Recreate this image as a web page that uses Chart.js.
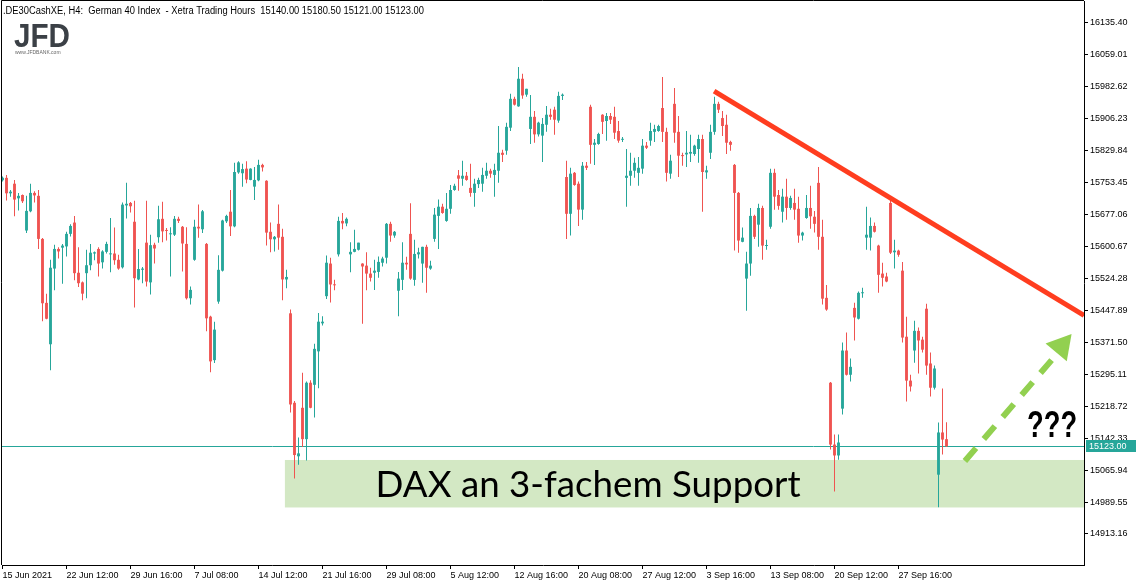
<!DOCTYPE html>
<html>
<head>
<meta charset="utf-8">
<script src="https://cdn.jsdelivr.net/npm/chart.js@4.4.1/dist/chart.umd.min.js"></script>
<style>
  html, body { margin: 0; padding: 0; background: #fff; }
</style>
</head>
<body>
<canvas id="chart" width="1142" height="588"></canvas>
<script>
// H4 candles, .DE30CashXE, 15 Jun 2021 08:00 onwards (index = candle number)
const opens = [
  15759, 15765, 15728, 15751, 15716, 15724, 15639, 15685, 15729, 15722,
  15619, 15466, 15367, 15548, 15595, 15598, 15601, 15631, 15658, 15538,
  15515, 15537, 15556, 15584, 15595, 15563, 15588, 15582, 15584, 15569,
  15551, 15699, 15705, 15660, 15522, 15545, 15610, 15515, 15605, 15623,
  15667, 15640, 15630, 15629, 15667, 15648, 15607, 15477, 15569, 15648,
  15642, 15607, 15433, 15329, 15469, 15543, 15661, 15684, 15649, 15778,
  15776, 15787, 15760, 15744, 15759, 15796, 15758, 15636, 15618, 15655,
  15624, 15522, 15441, 15227, 15099, 15215, 15140, 15275, 15270, 15350,
  15417, 15482, 15560, 15509, 15582, 15662, 15656, 15582, 15588, 15593,
  15560, 15555, 15536, 15538, 15540, 15562, 15574, 15655, 15627, 15495,
  15521, 15562, 15631, 15521, 15582, 15560, 15600, 15548, 15619, 15674,
  15696, 15662, 15691, 15736, 15771, 15763, 15770, 15741, 15729, 15750,
  15751, 15770, 15782, 15772, 15782, 15825, 15830, 15885, 15954, 15936,
  16002, 15964, 15882, 15911, 15869, 15866, 15892, 15916, 15928, 15902,
  15961, 15767, 15679, 15777, 15751, 15689, 15794, 15935, 15844, 15846,
  15916, 15901, 15913, 15911, 15877, 15856, 15765, 15770, 15782, 15777,
  15787, 15842, 15854, 15875, 15877, 15932, 15875, 15775, 15942, 15875,
  15818, 15821, 15823, 15822, 15834, 15858, 15778, 15825, 15875, 15942,
  15908, 15892, 15851, 15796, 15729, 15612, 15524, 15560, 15674, 15653,
  15693, 15602, 15648, 15777, 15724, 15684, 15720, 15693, 15705, 15691,
  15627, 15669, 15693, 15672, 15753, 15624, 15478, 15275, 15127, 15101,
  15213, 15352, 15294, 15454, 15428, 15489, 15622, 15622, 15650, 15603,
  15536, 15529, 15705, 15587, 15591, 15543, 15385, 15280, 15352, 15399,
  15378, 15452, 15321, 15263, 15055, 15156, 15140
];
const highs = [
  15768, 15772, 15736, 15760, 15729, 15725, 15722, 15751, 15733, 15736,
  15621, 15488, 15569, 15605, 15599, 15607, 15636, 15654, 15674, 15599,
  15517, 15593, 15607, 15589, 15599, 15592, 15612, 15669, 15646, 15581,
  15706, 15753, 15707, 15710, 15595, 15552, 15710, 15629, 15610, 15698,
  15708, 15645, 15647, 15674, 15672, 15650, 15647, 15505, 15665, 15701,
  15688, 15609, 15435, 15421, 15580, 15665, 15677, 15736, 15801, 15805,
  15799, 15805, 15788, 15791, 15808, 15799, 15759, 15658, 15626, 15701,
  15643, 15545, 15450, 15231, 15144, 15299, 15278, 15281, 15368, 15442,
  15434, 15579, 15574, 15521, 15672, 15681, 15670, 15611, 15641, 15610,
  15561, 15587, 15550, 15569, 15577, 15576, 15657, 15660, 15638, 15540,
  15611, 15576, 15704, 15617, 15598, 15600, 15605, 15567, 15693, 15713,
  15703, 15729, 15748, 15751, 15784, 15806, 15779, 15799, 15763, 15765,
  15789, 15801, 15787, 15799, 15889, 15832, 15897, 15966, 15959, 16030,
  16014, 15978, 15963, 15925, 15899, 15908, 15937, 15930, 15935, 15971,
  15967, 15806, 15789, 15779, 15756, 15803, 15803, 15940, 15858, 15873,
  15917, 15920, 15920, 15935, 15901, 15863, 15834, 15825, 15813, 15815,
  15858, 15851, 15897, 15892, 15892, 16006, 15885, 15820, 15980, 15913,
  15825, 15877, 15868, 15844, 15868, 15868, 15794, 15892, 15959, 15947,
  15925, 15916, 15854, 15798, 15731, 15646, 15588, 15693, 15677, 15703,
  15698, 15617, 15787, 15787, 15736, 15739, 15763, 15722, 15739, 15720,
  15636, 15724, 15746, 15686, 15791, 15665, 15509, 15277, 15151, 15151,
  15371, 15395, 15333, 15466, 15493, 15502, 15696, 15670, 15658, 15605,
  15562, 15538, 15713, 15617, 15593, 15564, 15433, 15294, 15423, 15407,
  15385, 15464, 15347, 15316, 15180, 15261, 15180.5
];
const lows = [
  15756, 15711, 15720, 15673, 15687, 15705, 15633, 15683, 15706, 15595,
  15422, 15427, 15305, 15496, 15572, 15512, 15577, 15625, 15520, 15504,
  15472, 15477, 15544, 15568, 15529, 15548, 15584, 15539, 15557, 15545,
  15548, 15668, 15682, 15455, 15520, 15513, 15505, 15486, 15560, 15610,
  15611, 15615, 15529, 15626, 15657, 15541, 15474, 15462, 15567, 15622,
  15633, 15398, 15300, 15322, 15464, 15541, 15657, 15626, 15647, 15775,
  15744, 15752, 15759, 15712, 15757, 15780, 15603, 15587, 15589, 15593,
  15472, 15501, 15204, 15046, 15079, 15121, 15089, 15214, 15192, 15262,
  15412, 15475, 15467, 15496, 15577, 15642, 15649, 15539, 15587, 15591,
  15416, 15496, 15517, 15497, 15526, 15553, 15560, 15612, 15622, 15434,
  15497, 15545, 15521, 15507, 15572, 15514, 15490, 15545, 15612, 15595,
  15679, 15660, 15679, 15734, 15734, 15746, 15758, 15720, 15696, 15741,
  15732, 15763, 15765, 15720, 15753, 15803, 15820, 15877, 15938, 15935,
  15954, 15959, 15846, 15849, 15864, 15803, 15875, 15904, 15868, 15897,
  15951, 15619, 15627, 15746, 15650, 15665, 15784, 15799, 15796, 15844,
  15870, 15854, 15894, 15858, 15849, 15851, 15696, 15746, 15765, 15746,
  15775, 15834, 15842, 15851, 15875, 15851, 15756, 15763, 15849, 15767,
  15794, 15791, 15803, 15818, 15801, 15684, 15763, 15810, 15868, 15920,
  15865, 15822, 15830, 15591, 15586, 15611, 15447, 15531, 15619, 15600,
  15569, 15593, 15643, 15689, 15689, 15658, 15665, 15689, 15665, 15610,
  15615, 15667, 15643, 15634, 15593, 15462, 15447, 15115, 15015, 15091,
  15199, 15292, 15278, 15376, 15426, 15478, 15593, 15591, 15634, 15490,
  15505, 15515, 15583, 15548, 15576, 15371, 15230, 15254, 15323, 15297,
  15347, 15294, 15242, 15259, 14977, 15103, 15121
];
const closes = [
  15765, 15728, 15732, 15713, 15722, 15709, 15686, 15729, 15723, 15619,
  15465, 15428, 15550, 15595, 15589, 15603, 15631, 15650, 15537, 15513,
  15488, 15556, 15586, 15587, 15560, 15589, 15607, 15584, 15568, 15548,
  15701, 15703, 15697, 15525, 15547, 15548, 15517, 15604, 15596, 15666,
  15637, 15638, 15631, 15667, 15662, 15608, 15477, 15497, 15648, 15644,
  15685, 15429, 15326, 15402, 15545, 15663, 15674, 15649, 15779, 15802,
  15786, 15761, 15787, 15760, 15796, 15790, 15634, 15618, 15624, 15622,
  15522, 15528, 15223, 15102, 15106, 15140, 15275, 15215, 15356, 15421,
  15421, 15562, 15510, 15508, 15662, 15656, 15667, 15588, 15595, 15610,
  15553, 15536, 15526, 15543, 15564, 15572, 15655, 15627, 15636, 15524,
  15562, 15558, 15524, 15583, 15587, 15600, 15550, 15555, 15677, 15696,
  15681, 15691, 15736, 15746, 15763, 15770, 15760, 15729, 15751, 15760,
  15772, 15782, 15775, 15784, 15825, 15820, 15887, 15954, 15940, 16002,
  15962, 15978, 15911, 15869, 15897, 15894, 15916, 15911, 15904, 15961,
  15964, 15679, 15775, 15748, 15689, 15794, 15789, 15844, 15849, 15870,
  15899, 15913, 15904, 15873, 15854, 15858, 15770, 15782, 15801, 15789,
  15842, 15837, 15877, 15882, 15889, 15875, 15777, 15806, 15873, 15818,
  15817, 15825, 15827, 15842, 15858, 15779, 15783, 15875, 15942, 15928,
  15889, 15849, 15844, 15729, 15615, 15622, 15560, 15674, 15624, 15693,
  15603, 15603, 15777, 15720, 15698, 15720, 15693, 15717, 15689, 15627,
  15634, 15693, 15673, 15655, 15624, 15476, 15450, 15127, 15101, 15132,
  15352, 15294, 15313, 15431, 15490, 15490, 15629, 15650, 15636, 15533,
  15526, 15517, 15586, 15591, 15581, 15383, 15280, 15266, 15399, 15376,
  15354, 15316, 15263, 15309, 15156, 15139, 15123
];

// time axis: one label every 16 candles
const xTickIndex = [0, 16, 32, 48, 64, 80, 96, 112, 128, 144, 160, 176, 192, 208, 224];
const xTickLabels = ['15 Jun 2021', '22 Jun 12:00', '29 Jun 16:00', '7 Jul 08:00', '14 Jul 12:00',
  '21 Jul 16:00', '29 Jul 08:00', '5 Aug 12:00', '12 Aug 16:00', '20 Aug 08:00',
  '27 Aug 12:00', '3 Sep 16:00', '13 Sep 08:00', '20 Sep 12:00', '27 Sep 16:00'];
const yTickValues = [16135.40, 16059.01, 15982.62, 15906.23, 15829.84, 15753.45, 15677.06,
  15600.67, 15524.28, 15447.89, 15371.50, 15295.11, 15218.72, 15142.33, 15065.94,
  14989.55, 14913.16];

// drawings on the chart (candle index, price)
const trendLineX = [177.9, 270.375];
const trendLineY = [15972.7, 15435.8];
const arrowX = [240.6, 263.55];
const arrowY = [15087.8, 15343.2];
const arrowHeadAt = [264.7, 15362.1];
const supportX = [70.6, 270.375];
const supportY = [14976.6, 15090.2];
const supportText = 'DAX an 3-fachem Support';
const supportTextAt = [146.4, 15001.7];
const questionAt = [262.4, 15145.2];
const lastPrice = 15123.00;

const GREEN = '#26a69a';
const RED = '#ef5350';

Chart.defaults.font.family = "'Liberation Sans', Arial, sans-serif";
Chart.defaults.font.size = 9;
Chart.defaults.color = '#000';

const idx = opens.map((_, i) => i);
const candleColors = idx.map(i => closes[i] >= opens[i] ? GREEN : RED);

const frame = {
  id: 'frame',
  beforeDatasetsDraw(chart) {
    const { ctx, chartArea: a, scales: { x, y } } = chart;
    ctx.save();
    ctx.beginPath();
    ctx.rect(a.left, a.top, a.width, a.height);
    ctx.clip();
    // support zone
    const zx0 = x.getPixelForValue(supportX[0]);
    const zx1 = x.getPixelForValue(supportX[1]);
    const zy0 = y.getPixelForValue(supportY[1]);
    const zy1 = y.getPixelForValue(supportY[0]);
    ctx.fillStyle = 'rgb(211, 232, 196)';
    ctx.fillRect(zx0, zy0, zx1 - zx0, zy1 - zy0);
    // last price line
    const py = Math.round(y.getPixelForValue(lastPrice)) + 0.5;
    ctx.strokeStyle = GREEN;
    ctx.lineWidth = 1;
    ctx.beginPath();
    ctx.moveTo(a.left, py);
    ctx.lineTo(a.right, py);
    ctx.stroke();
    ctx.restore();
  },
  afterDatasetsDraw(chart) {
    const { ctx, scales: { x, y } } = chart;
    ctx.save();
    ctx.fillStyle = '#000';
    ctx.textAlign = 'center';
    ctx.textBaseline = 'alphabetic';
    ctx.font = "37px Lato, 'Open Sans', sans-serif";
    ctx.fillText(supportText, x.getPixelForValue(supportTextAt[0]), y.getPixelForValue(supportTextAt[1]), 425);
    ctx.font = "bold 36px 'Liberation Sans', sans-serif";
    ctx.fillText('???', x.getPixelForValue(questionAt[0]), y.getPixelForValue(questionAt[1]), 50);
    ctx.restore();
  },
  afterDraw(chart) {
    const { ctx, chartArea: a, scales: { y } } = chart;
    ctx.save();
    // left and top border
    ctx.strokeStyle = '#000';
    ctx.lineWidth = 1;
    ctx.beginPath();
    ctx.moveTo(a.left - 0.5, a.bottom);
    ctx.lineTo(a.left - 0.5, a.top - 0.5);
    ctx.lineTo(a.right, a.top - 0.5);
    ctx.stroke();
    // header
    ctx.fillStyle = '#000';
    ctx.textAlign = 'left';
    ctx.textBaseline = 'middle';
    ctx.font = "10px 'Liberation Sans', sans-serif";
    ctx.fillText('.DE30CashXE, H4:  German 40 Index  - Xetra Trading Hours  15140.00 15180.50 15121.00 15123.00', 3, 11, 421);
    // logo
    ctx.fillStyle = '#3b4046';
    ctx.textBaseline = 'alphabetic';
    ctx.font = "bold 33px 'Liberation Sans', sans-serif";
    ctx.fillText('JFD', 14, 47, 56);
    ctx.fillStyle = '#666';
    ctx.font = "5px 'Liberation Sans', sans-serif";
    ctx.fillText('www.JFDBANK.com', 15, 54, 53);
    // last price box
    const py = Math.round(y.getPixelForValue(lastPrice));
    ctx.fillStyle = GREEN;
    ctx.fillRect(a.right + 2, py - 6, 50, 12);
    ctx.fillStyle = '#fff';
    ctx.textBaseline = 'middle';
    ctx.font = "9px 'Liberation Sans', sans-serif";
    ctx.fillText(lastPrice.toFixed(2), a.right + 5, py + 0.5);
    ctx.restore();
  }
};

new Chart(document.getElementById('chart'), {
  type: 'bar',
  data: {
    datasets: [
      {
        type: 'line',
        order: 0,
        data: trendLineX.map((v, i) => ({ x: v, y: trendLineY[i] })),
        borderColor: '#ff3d1f',
        borderWidth: 5,
        pointRadius: 0
      },
      {
        type: 'line',
        order: 0,
        data: arrowX.map((v, i) => ({ x: v, y: arrowY[i] })),
        borderColor: '#92d050',
        borderWidth: 6,
        borderDash: [17, 12],
        pointRadius: 0
      },
      {
        type: 'line',
        order: 0,
        data: [{ x: arrowHeadAt[0], y: arrowHeadAt[1] }],
        showLine: false,
        pointStyle: 'triangle',
        pointRadius: 16,
        pointRotation: 40,
        pointBackgroundColor: '#92d050',
        pointBorderWidth: 0
      },
      {
        order: 1,
        data: idx.map(i => ({ x: i, y: [opens[i], closes[i]] })),
        backgroundColor: candleColors,
        grouped: false,
        maxBarThickness: 3,
        minBarLength: 1,
        inflateAmount: 0,
        borderWidth: 0
      },
      {
        order: 2,
        data: idx.map(i => ({ x: i, y: [lows[i], highs[i]] })),
        backgroundColor: candleColors,
        grouped: false,
        maxBarThickness: 1,
        inflateAmount: 0,
        borderWidth: 0
      }
    ]
  },
  options: {
    responsive: false,
    animation: false,
    devicePixelRatio: 1,
    layout: { autoPadding: false, padding: { left: 2, top: 1, right: 0, bottom: 0 } },
    plugins: { legend: { display: false }, tooltip: { enabled: false } },
    scales: {
      x: {
        type: 'linear',
        min: -0.125,
        max: 270.375,
        offset: false,
        afterBuildTicks: s => { s.ticks = xTickIndex.map(v => ({ value: v })); },
        afterFit: s => { s.height = 23; s.paddingLeft = 0; s.paddingRight = 0; },
        ticks: {
          align: 'start',
          maxRotation: 0,
          autoSkip: false,
          padding: 1,
          callback: (v, i) => xTickLabels[i]
        },
        grid: { offset: false, drawOnChartArea: false, tickLength: 4, color: '#000' },
        border: { color: '#000' }
      },
      y: {
        position: 'right',
        min: 14839.0,
        max: 16188.0,
        afterBuildTicks: s => { s.ticks = yTickValues.map(v => ({ value: v })); },
        afterFit: s => { s.width = 58; s.paddingTop = 0; s.paddingBottom = 0; },
        ticks: { autoSkip: false, padding: 2, callback: v => v.toFixed(2) },
        grid: { drawOnChartArea: false, tickLength: 4, color: '#000' },
        border: { color: '#000' }
      }
    }
  },
  plugins: [frame]
});
</script>
</body>
</html>
